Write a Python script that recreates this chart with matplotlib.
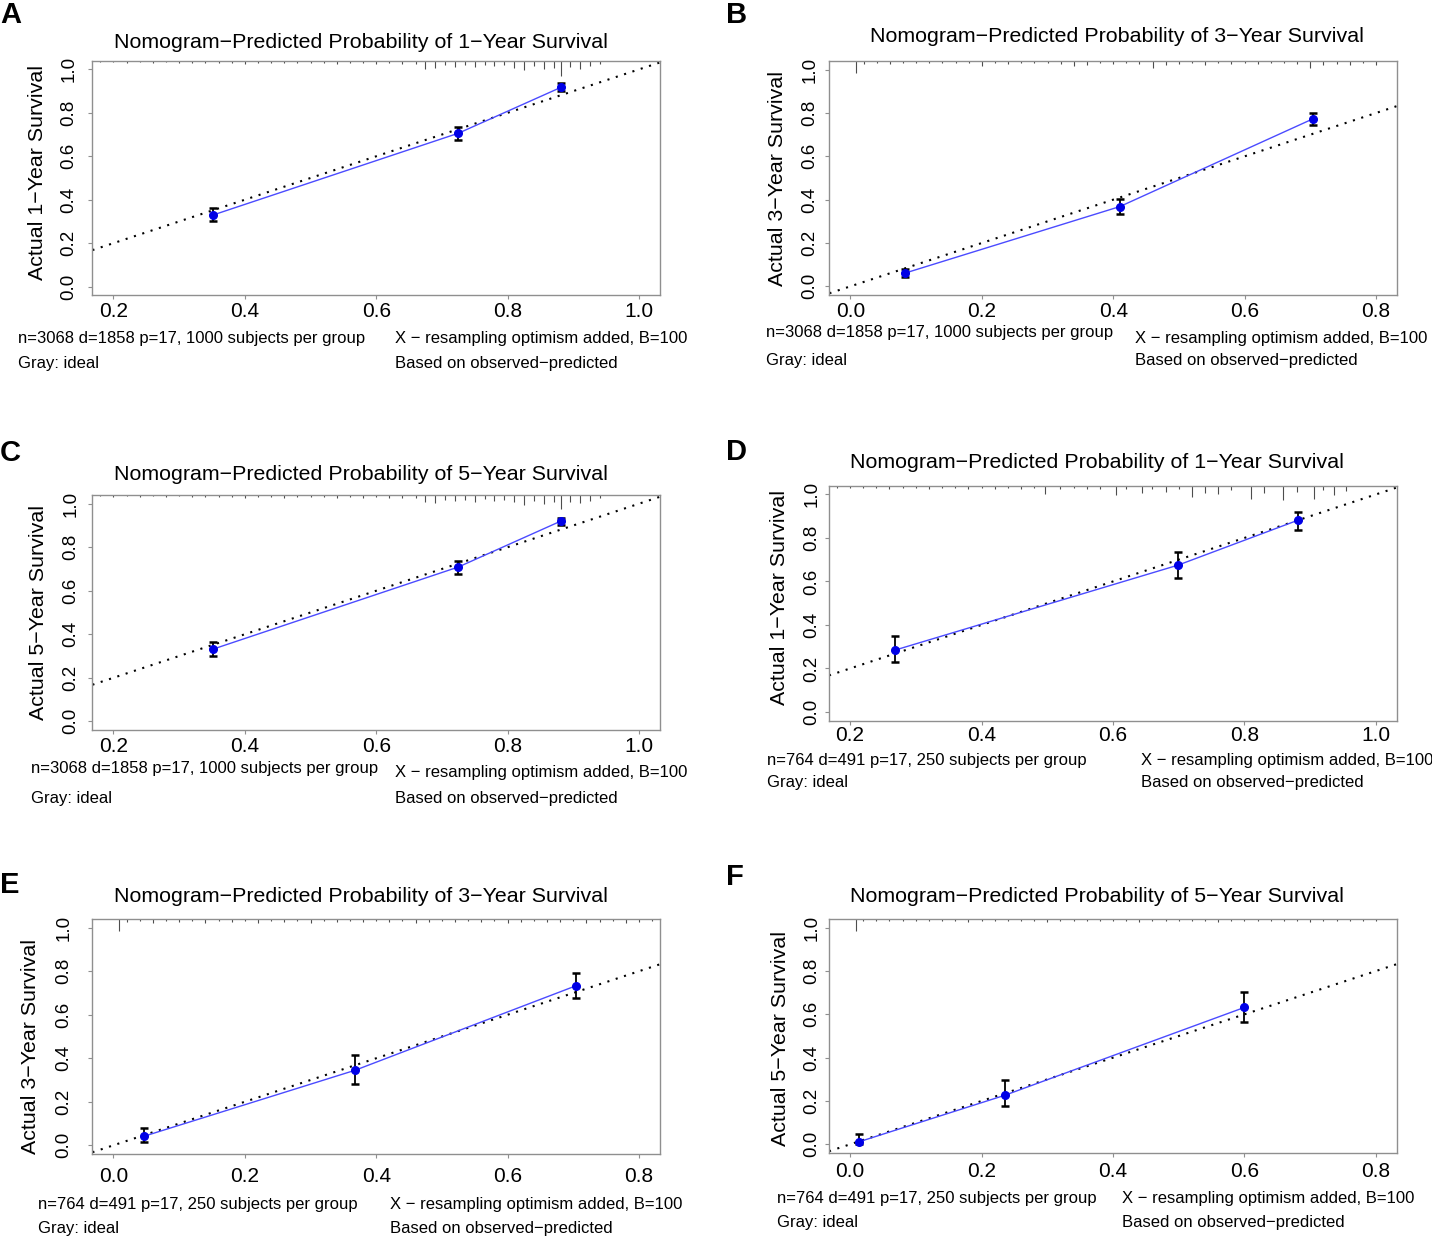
"""Six calibration curves (rms-style) for the nomogram, panels A-F."""

import matplotlib
matplotlib.use("Agg")
import matplotlib.pyplot as plt

W, H = 1432, 1240
DPI = 100
plt.rcParams["font.family"] = ["Liberation Sans", "DejaVu Sans"]

# ---- data ------------------------------------------------------------------
A_pred = [0.351, 0.725, 0.881]
A_obs = [0.329, 0.706, 0.917]
A_lo = [0.300, 0.677, 0.900]
A_hi = [0.361, 0.735, 0.937]

B_pred = [0.083, 0.410, 0.704]
B_obs = [0.061, 0.368, 0.773]
B_lo = [0.043, 0.334, 0.743]
B_hi = [0.081, 0.403, 0.801]

C_pred = [0.351, 0.725, 0.881]
C_obs = [0.331, 0.709, 0.920]
C_lo = [0.299, 0.678, 0.902]
C_hi = [0.364, 0.737, 0.936]

D_pred = [0.269, 0.699, 0.881]
D_obs = [0.285, 0.675, 0.881]
D_lo = [0.232, 0.618, 0.838]
D_hi = [0.348, 0.737, 0.921]

E_pred = [0.046, 0.368, 0.704]
E_obs = [0.041, 0.345, 0.733]
E_lo = [0.015, 0.284, 0.679]
E_hi = [0.081, 0.417, 0.793]

F_pred = [0.014, 0.236, 0.600]
F_obs = [0.012, 0.227, 0.632]
F_lo = [0.000, 0.176, 0.563]
F_hi = [0.046, 0.296, 0.701]

# distribution of predicted risk (spikes along the top edge), height in axes fraction
A_rug_x = [0.18, 0.20, 0.22, 0.24, 0.26, 0.28, 0.30, 0.32, 0.34, 0.36, 0.38, 0.40,
           0.42, 0.44, 0.46, 0.48, 0.50, 0.52, 0.54, 0.56, 0.58, 0.60, 0.62, 0.64,
           0.66, 0.675, 0.69, 0.705, 0.72, 0.735, 0.75, 0.765, 0.78, 0.795, 0.81,
           0.825, 0.84, 0.855, 0.87, 0.882, 0.895, 0.91, 0.925, 0.94]
A_rug_h = [.006, .006, .008, .006, .008, .006, .008, .010, .008, .008, .010, .012,
           .008, .010, .008, .010, .008, .010, .012, .010, .010, .012, .010, .012,
           .014, .035, .030, .020, .028, .018, .025, .020, .022, .018, .032,
           .040, .022, .035, .030, .065, .028, .035, .022, .012]

B_rug_x = [0.008, 0.02, 0.04, 0.06, 0.08, 0.10, 0.12, 0.14, 0.16, 0.18, 0.20, 0.22,
           0.24, 0.26, 0.28, 0.30, 0.32, 0.34, 0.36, 0.38, 0.40, 0.42, 0.44, 0.46,
           0.48, 0.50, 0.52, 0.54, 0.56, 0.58, 0.60, 0.62, 0.64, 0.66, 0.68, 0.70,
           0.72, 0.74, 0.76, 0.78, 0.80]
B_rug_h = [.050, .012, .010, .012, .010, .008, .010, .008, .010, .008, .022, .010,
           .012, .010, .008, .010, .012, .020, .018, .010, .012, .010, .012, .030,
           .015, .012, .010, .015, .010, .012, .010, .012, .010, .010, .012, .028,
           .015, .012, .018, .010, .015]

C_rug_x = [0.18, 0.20, 0.22, 0.24, 0.26, 0.28, 0.30, 0.32, 0.34, 0.36, 0.38, 0.40,
           0.42, 0.44, 0.46, 0.48, 0.50, 0.52, 0.54, 0.56, 0.58, 0.60, 0.62, 0.64,
           0.66, 0.675, 0.69, 0.705, 0.72, 0.735, 0.75, 0.765, 0.78, 0.795, 0.81,
           0.825, 0.84, 0.855, 0.87, 0.882, 0.895, 0.91, 0.925, 0.94]
C_rug_h = [.006, .008, .006, .008, .006, .008, .006, .010, .008, .010, .008, .012,
           .010, .008, .012, .008, .010, .010, .012, .010, .012, .010, .014, .012,
           .014, .030, .035, .022, .025, .020, .028, .018, .025, .020, .030,
           .042, .025, .038, .028, .060, .030, .032, .025, .012]

D_rug_x = [0.18, 0.20, 0.22, 0.24, 0.26, 0.28, 0.30, 0.32, 0.34, 0.36, 0.38, 0.40,
           0.42, 0.44, 0.46, 0.48, 0.496, 0.52, 0.54, 0.56, 0.58, 0.604, 0.62, 0.644,
           0.66, 0.68, 0.70, 0.72, 0.74, 0.76, 0.78, 0.81, 0.83, 0.858, 0.88, 0.906,
           0.92, 0.936, 0.955]
D_rug_h = [.008, .010, .008, .010, .012, .010, .008, .012, .010, .008, .012, .010,
           .012, .010, .012, .010, .035, .012, .010, .012, .015, .040, .015, .030,
           .015, .028, .015, .050, .030, .035, .020, .055, .030, .060, .028, .055,
           .020, .038, .022]

E_rug_x = [0.009, 0.02, 0.04, 0.06, 0.08, 0.10, 0.12, 0.14, 0.16, 0.18, 0.20, 0.22,
           0.24, 0.26, 0.28, 0.30, 0.32, 0.34, 0.36, 0.38, 0.40, 0.42, 0.44, 0.46,
           0.48, 0.50, 0.52, 0.54, 0.56, 0.58, 0.60, 0.62, 0.64, 0.66, 0.68, 0.70,
           0.72, 0.74, 0.76, 0.78, 0.80, 0.82]
E_rug_h = [.050, .012, .010, .015, .010, .012, .010, .018, .010, .012, .010, .015,
           .010, .012, .010, .015, .010, .012, .010, .014, .010, .012, .010, .015,
           .012, .010, .014, .010, .012, .010, .015, .012, .010, .014, .012, .010,
           .015, .012, .010, .018, .012, .010]

F_rug_x = [0.009, 0.02, 0.04, 0.06, 0.08, 0.10, 0.12, 0.14, 0.16, 0.18, 0.20, 0.22,
           0.24, 0.26, 0.28, 0.30, 0.32, 0.34, 0.36, 0.38, 0.40, 0.42, 0.44, 0.46,
           0.48, 0.50, 0.52, 0.54, 0.56, 0.58, 0.60, 0.62, 0.64, 0.66, 0.68, 0.70,
           0.72, 0.74, 0.76, 0.78, 0.80]
F_rug_h = [.050, .010, .008, .010, .008, .010, .008, .010, .008, .012, .008, .010,
           .008, .010, .008, .012, .008, .010, .008, .010, .008, .010, .012, .008,
           .010, .008, .010, .008, .012, .008, .010, .008, .010, .008, .010, .012,
           .008, .010, .008, .010, .008]

LETTERS = ["A", "B", "C", "D", "E", "F"]
YEARS = ["1", "3", "5", "1", "3", "5"]
INFO = ["n=3068 d=1858 p=17, 1000 subjects per group"] * 3 + \
       ["n=764 d=491 p=17, 250 subjects per group"] * 3
XTICKS_HI = [0.2, 0.4, 0.6, 0.8, 1.0]
XTICKS_LO = [0.0, 0.2, 0.4, 0.6, 0.8]
YTICKS = [0.0, 0.2, 0.4, 0.6, 0.8, 1.0]

SERIES = [
    (A_pred, A_obs, A_lo, A_hi, A_rug_x, A_rug_h),
    (B_pred, B_obs, B_lo, B_hi, B_rug_x, B_rug_h),
    (C_pred, C_obs, C_lo, C_hi, C_rug_x, C_rug_h),
    (D_pred, D_obs, D_lo, D_hi, D_rug_x, D_rug_h),
    (E_pred, E_obs, E_lo, E_hi, E_rug_x, E_rug_h),
    (F_pred, F_obs, F_lo, F_hi, F_rug_x, F_rug_h),
]

# ---- layout, in reference pixels ---------------------------------------------
# box (l, t, r, b), title xy, ylabel xy, ytick x, xtick y,
# text left x, text right x, row1 y left, row1 y right, row2 y, letter xy
LAYOUT = [
    ((92.4, 60.7, 660, 295.3), (361, 43), (38, 172), 67, 313, 18, 395, 338, 338, 364, (0, 15)),
    ((829.4, 61, 1397, 295), (1117, 37), (777, 178), 808, 313, 766, 1135, 333, 338, 360, (726, 15)),
    ((92.4, 495, 660, 730), (361, 475), (39, 613), 69, 748, 31, 395, 769, 773, 798, (0, 453)),
    ((829, 485.7, 1397, 720.7), (1097, 462), (780, 598), 810, 737, 767, 1141, 760, 760, 783, (726, 452)),
    ((92.4, 919, 660, 1154), (361, 896), (31, 1047), 62, 1178, 38, 390, 1205, 1205, 1229, (0, 885)),
    ((829, 919, 1397, 1153), (1097, 896), (781, 1038), 810, 1173, 777, 1122, 1199, 1199, 1223, (726, 877)),
]

FS_XTICK = 15
FS_YTICK = 13.5
FS_TITLE = 15.4
FS_INFO = 12
TICK_LEN = 3  # pt
GRAY = "#8f8f8f"


def fx(x):
    return x / W


def fy(y):
    return 1 - y / H


fig = plt.figure(figsize=(W / DPI, H / DPI), dpi=DPI)
px_per_pt = DPI / 72.0

for i, (pred, obs, lo, hi, rx, rh) in enumerate(SERIES):
    (l, t, r, b), tt, yl, ytx, xty, txl, txr, r1l, r1r, r2, let = LAYOUT[i]
    ax = fig.add_axes([fx(l), fy(b), (r - l) / W, (b - t) / H])

    high = i in (0, 2, 3)
    xt = XTICKS_HI if high else XTICKS_LO
    x0, x1 = xt[0], xt[-1]
    pad_x = 0.04 * (x1 - x0)
    ax.set_xlim(x0 - pad_x, x1 + pad_x)
    ax.set_ylim(-0.04, 1.04)

    # ideal line
    ax.axline((0, 0), slope=1, color="black", lw=1.5, ls=(0, (1, 3.2)), zorder=2)

    # risk distribution spikes along the top edge
    ax.vlines(rx, [1 - h for h in rh], 1, transform=ax.get_xaxis_transform(),
              colors="#4d4d4d", lw=0.8, zorder=1)

    # observed vs predicted
    ax.plot(pred, obs, color="#4b4bff", lw=1.0, zorder=3)
    err_lo = [o - v for o, v in zip(obs, lo)]
    err_hi = [v - o for o, v in zip(obs, hi)]
    ax.errorbar(pred, obs, yerr=[err_lo, err_hi], fmt="none", ecolor="black",
                elinewidth=1.3, capsize=3.2, capthick=1.8, zorder=4)
    ax.plot(pred, obs, "o", color="#0000e6", ms=5.5, zorder=5)

    ax.set_xticks(xt)
    ax.set_xticklabels([f"{v:.1f}" for v in xt])
    ax.set_yticks(YTICKS)
    ax.set_yticklabels([f"{v:.1f}" for v in YTICKS])

    tick_px = TICK_LEN * px_per_pt
    xpad_px = xty - b - tick_px - 0.55 * FS_XTICK * px_per_pt
    ypad_px = l - tick_px - 0.57 * FS_YTICK * px_per_pt - ytx
    ax.tick_params(axis="x", length=TICK_LEN, color=GRAY, labelsize=FS_XTICK,
                   pad=xpad_px / px_per_pt)
    ax.tick_params(axis="y", length=TICK_LEN, color=GRAY, labelsize=FS_YTICK,
                   pad=ypad_px / px_per_pt, labelrotation=90)
    for lab in ax.get_yticklabels():
        lab.set_va("center")
    for sp in ax.spines.values():
        sp.set_color(GRAY)
        sp.set_linewidth(1.0)

    fig.text(fx(tt[0]), fy(tt[1]),
             f"Nomogram\u2212Predicted Probability of {YEARS[i]}\u2212Year Survival",
             ha="center", va="center", fontsize=FS_TITLE)
    fig.text(fx(yl[0]), fy(yl[1]), f"Actual {YEARS[i]}\u2212Year Survival",
             ha="center", va="center", rotation=90, fontsize=FS_TITLE)
    fig.text(fx(txl), fy(r1l), INFO[i], ha="left", va="center", fontsize=FS_INFO)
    fig.text(fx(txr), fy(r1r), "X \u2212 resampling optimism added, B=100",
             ha="left", va="center", fontsize=FS_INFO)
    fig.text(fx(txl), fy(r2), "Gray: ideal", ha="left", va="center", fontsize=FS_INFO)
    fig.text(fx(txr), fy(r2), "Based on observed\u2212predicted",
             ha="left", va="center", fontsize=FS_INFO)
    fig.text(fx(let[0]), fy(let[1]), LETTERS[i], ha="left", va="center",
             fontsize=21, fontweight="bold")

fig.savefig("out.png", dpi=DPI)
